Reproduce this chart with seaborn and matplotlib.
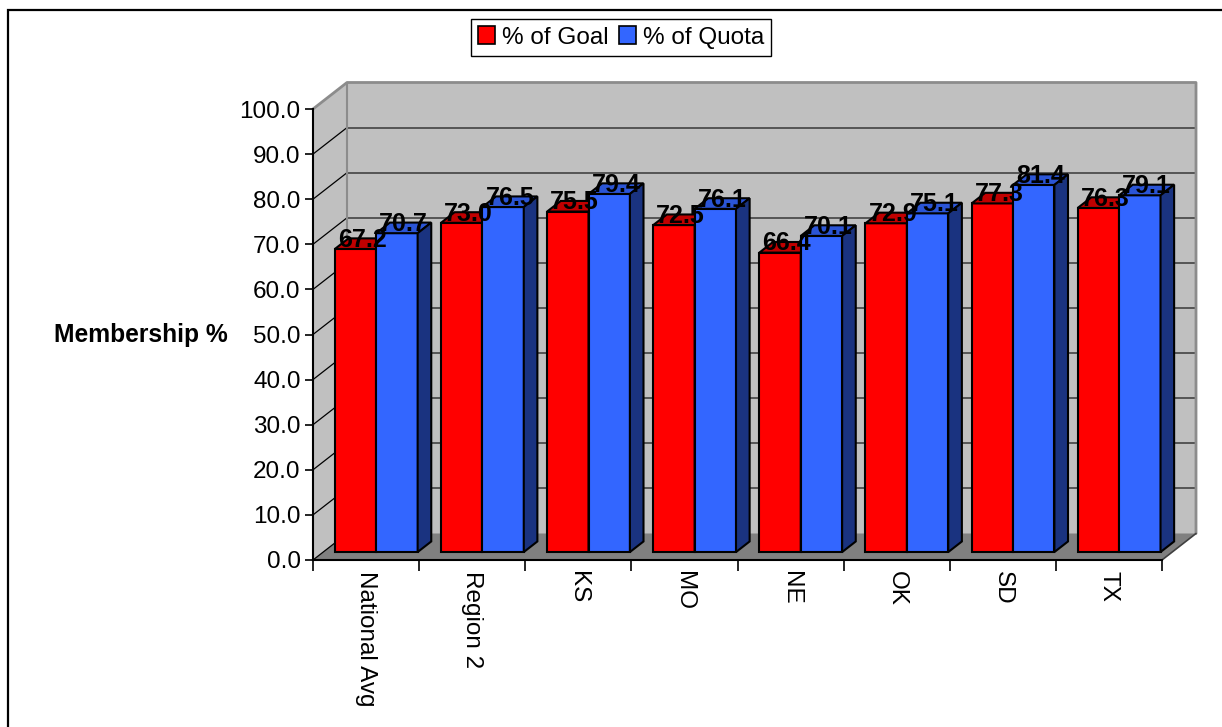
# Membership % by region - 3D-look clustered bars (Excel style)

import numpy as np
import pandas as pd
import matplotlib.pyplot as plt
import seaborn as sns
from matplotlib.patches import Polygon, Rectangle, Patch
from matplotlib.transforms import ScaledTranslation

# =========================================
# DATA
# =========================================

regions = ["National Avg", "Region 2", "KS", "MO", "NE", "OK", "SD", "TX"]
goal_pct = [67.2, 73.0, 75.5, 72.5, 66.4, 72.9, 77.3, 76.3]
quota_pct = [70.7, 76.5, 79.4, 76.1, 70.1, 75.1, 81.4, 79.1]
series_names = ["% of Goal", "% of Quota"]
y_ticks = list(range(0, 101, 10))

df = pd.DataFrame({
    "Region": regions * 2,
    "Pct": goal_pct + quota_pct,
    "Measure": [series_names[0]] * len(regions) + [series_names[1]] * len(regions),
})

# =========================================
# STYLE
# =========================================

RED = "#FF0000"
BLUE = "#3366FF"
FACE_TOP = ["#C00000", "#2B55D6"]
FACE_SIDE = ["#800000", "#1A3380"]
WALL = "#C0C0C0"
FLOOR = "#808080"

sns.set_theme(style="white")
plt.rcParams["font.family"] = ["Liberation Sans", "DejaVu Sans"]
plt.rcParams["text.color"] = "black"
plt.rcParams["axes.labelcolor"] = "black"
plt.rcParams["xtick.color"] = "black"
plt.rcParams["ytick.color"] = "black"

W_PX, H_PX = 1222, 727
AX_L, AX_R, AX_B, AX_T = 313, 1162, 560, 109     # front plane in pixels
DEPTH_X, DEPTH_Y = 34, 26.5                     # full 3D depth in pixels
BAR_FRONT, BAR_BACK = 0.3, 0.7                  # bar depth as fraction

fig = plt.figure(figsize=(W_PX / 100, H_PX / 100), dpi=100)
ax = fig.add_axes([AX_L / W_PX, (H_PX - AX_B) / H_PX,
                   (AX_R - AX_L) / W_PX, (AX_B - AX_T) / H_PX])

# =========================================
# BARS
# =========================================

sns.barplot(
    data=df, x="Region", y="Pct", hue="Measure",
    palette=[RED, BLUE], saturation=1, width=0.78,
    edgecolor="black", linewidth=1.5, legend=False,
    ax=ax, zorder=2
)

ax.set_xlim(-0.5, len(regions) - 0.5)
ax.set_ylim(0, 100)

px_cat = (AX_R - AX_L) / len(regions)
px_val = (AX_B - AX_T) / 100
wdx, wdy = DEPTH_X / px_cat, DEPTH_Y / px_val
bdx = (BAR_BACK - BAR_FRONT) * wdx
bdy = (BAR_BACK - BAR_FRONT) * wdy


def shifted(frac, extra_y=0):
    return ax.transData + ScaledTranslation(
        frac * DEPTH_X / 100, (frac * DEPTH_Y + extra_y) / 100, fig.dpi_scale_trans)


# =========================================
# WALLS AND FLOOR
# =========================================

x0w, x1w = -0.5, len(regions) - 0.5

ax.add_patch(Rectangle((x0w + wdx, wdy), x1w - x0w, 100, fc=WALL, ec="none",
                       zorder=0.1, clip_on=False))
ax.add_patch(Polygon([(x0w, 0), (x0w, 100), (x0w + wdx, 100 + wdy), (x0w + wdx, wdy)],
                     fc=WALL, ec="none", zorder=0.1, clip_on=False))
ax.add_patch(Polygon([(x0w, 0), (x1w, 0), (x1w + wdx, wdy), (x0w + wdx, wdy)],
                     fc=FLOOR, ec="none", zorder=0.2, clip_on=False))

for v in y_ticks[1:-1]:
    ax.plot([x0w + wdx, x1w + wdx], [v + wdy, v + wdy], color="#555555", lw=1.4,
            zorder=0.3, clip_on=False)
for v in y_ticks[:-1]:
    ax.plot([x0w, x0w + wdx], [v, v + wdy], color="black", lw=0.9,
            zorder=0.3, clip_on=False)

ax.plot([x0w, x0w + wdx, x1w + wdx, x1w + wdx], [100, 100 + wdy, 100 + wdy, wdy],
        color="#8C8C8C", lw=2, zorder=0.4, clip_on=False)
ax.plot([x0w + wdx, x0w + wdx], [wdy, 100 + wdy], color="#8C8C8C", lw=1.5,
        zorder=0.4, clip_on=False)
ax.plot([x1w + wdx, x1w], [wdy, 0], color="#404040", lw=1.2, zorder=0.4, clip_on=False)

# =========================================
# 3D FACES + VALUE LABELS
# =========================================

values = [goal_pct, quota_pct]
for ci, cont in enumerate(ax.containers):
    for bar, val in zip(cont, values[ci]):
        x0 = bar.get_x()
        w = bar.get_width()
        h = bar.get_height()
        bar.set_transform(shifted(BAR_FRONT))
        bar.set_zorder(2 + ci * 0.2)
        bar.set_clip_on(False)

        top = Polygon([(x0, h), (x0 + w, h), (x0 + w + bdx, h + bdy), (x0 + bdx, h + bdy)],
                      fc=FACE_TOP[ci], ec="black", lw=1.5,
                      transform=shifted(BAR_FRONT), zorder=2.1 + ci * 0.2, clip_on=False)
        side = Polygon([(x0 + w, 0), (x0 + w, h), (x0 + w + bdx, h + bdy), (x0 + w + bdx, bdy)],
                       fc=FACE_SIDE[ci], ec="black", lw=1.5,
                       transform=shifted(BAR_FRONT), zorder=2.1 + ci * 0.2, clip_on=False)
        ax.add_patch(top)
        ax.add_patch(side)

        ax.text(x0 + w / 2, h, f"{val:.1f}", transform=shifted(0.5, 4),
                ha="center", va="center", fontsize=18, fontweight="bold",
                color="black", zorder=5, clip_on=False)

# =========================================
# AXES
# =========================================

for s in ["top", "right"]:
    ax.spines[s].set_visible(False)
for s in ["left", "bottom"]:
    ax.spines[s].set_color("black")
    ax.spines[s].set_linewidth(1.5)
ax.set_facecolor("white")

ax.set_yticks(y_ticks)
ax.set_yticklabels([f"{v:.1f}" for v in y_ticks])
ax.tick_params(axis="y", left=True, direction="out", length=6, width=1.2,
               labelsize=17.5, pad=3, colors="black")

ax.set_xticks(range(len(regions)))
ax.set_xticklabels(regions)
ax.set_xticks(np.arange(-0.5, len(regions), 1), minor=True)
ax.tick_params(axis="x", which="major", length=0, pad=8, labelsize=17.5,
               labelcolor="black")
ax.tick_params(axis="x", which="minor", bottom=True, direction="out",
               length=8, width=1.2, color="black")
for lbl in ax.get_xticklabels():
    lbl.set_rotation(-90)
    lbl.set_ha("center")
    lbl.set_va("top")

ax.set_xlabel("")
ax.set_ylabel("Membership %", rotation=0, fontsize=17.7, fontweight="bold",
              ha="right", va="center", color="black")
ax.yaxis.set_label_coords((228 - AX_L) / (AX_R - AX_L), (AX_B - 335) / (AX_B - AX_T))

# =========================================
# LEGEND + BORDER
# =========================================

handles = [Patch(facecolor=RED, edgecolor="black", lw=1.2),
           Patch(facecolor=BLUE, edgecolor="black", lw=1.2)]
leg = ax.legend(
    handles, series_names, loc="center",
    bbox_to_anchor=(621 / W_PX, 1 - 37.5 / H_PX), bbox_transform=fig.transFigure,
    ncol=2, frameon=True, fancybox=False, edgecolor="black", framealpha=1,
    fontsize=17.5, handlelength=0.7, handleheight=0.7, handletextpad=0.3,
    columnspacing=0.4, borderpad=0.3, borderaxespad=0
)
leg.get_frame().set_linewidth(1.0)
for t in leg.get_texts():
    t.set_color("black")

fig.add_artist(Rectangle((8 / W_PX, -0.1), 1.2, 1.1 - 10 / H_PX, transform=fig.transFigure,
                         fill=False, ec="black", lw=1.6))

fig.savefig("out.png", dpi=100)
plt.close()
